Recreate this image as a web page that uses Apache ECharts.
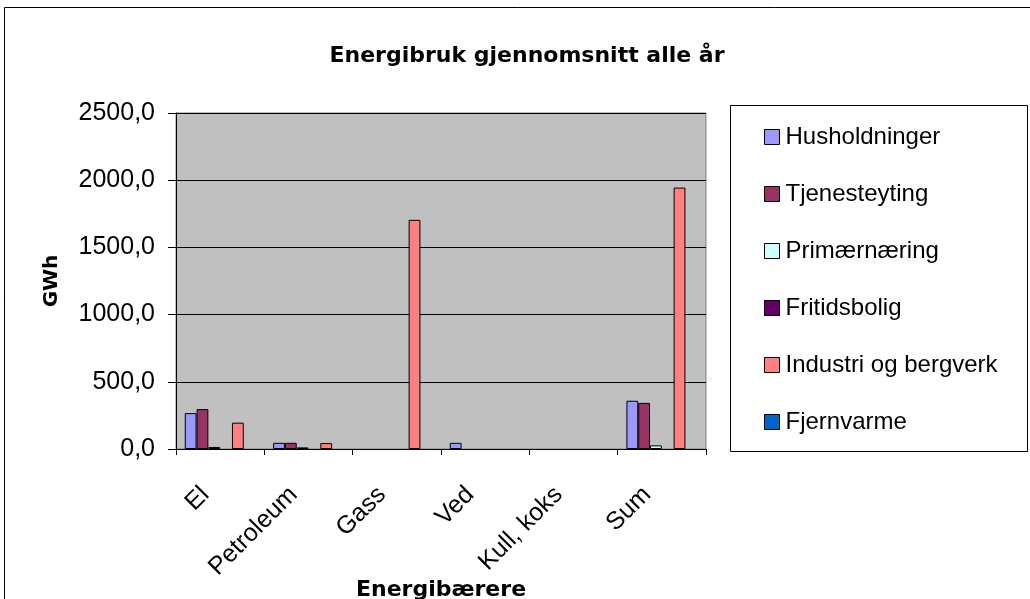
<!DOCTYPE html>
<html>
<head>
<meta charset="utf-8">
<script src="https://cdn.jsdelivr.net/npm/echarts@6/dist/echarts.min.js"></script>
<style>
html,body{margin:0;padding:0;background:#fff;}
#chart{width:1030px;height:599px;}
</style>
</head>
<body>
<div id="chart"></div>
<script>
var categories = ['El', 'Petroleum', 'Gass', 'Ved', 'Kull, koks', 'Sum'];
var seriesNames = ['Husholdninger', 'Tjenesteyting', 'Primærnæring', 'Fritidsbolig', 'Industri og bergverk', 'Fjernvarme'];
var husholdninger = [267, 46, null, 46, null, 359];
var tjenesteyting = [297, 46, null, null, null, 343];
var primaernaering = [15, 12, null, null, null, 27];
var fritidsbolig = [null, null, null, null, null, null];
var industri = [196, 44, 1705, null, null, 1945];
var fjernvarme = [null, null, null, null, null, null];
var yTicks = [0, 500, 1000, 1500, 2000, 2500];
var colors = ['#9999FF', '#993366', '#CCFFFF', '#660066', '#FF8080', '#0066CC'];

var seriesData = [husholdninger, tjenesteyting, primaernaering, fritidsbolig, industri, fjernvarme];

var chart = echarts.init(document.getElementById('chart'), null, {renderer: 'canvas'});
var series = seriesNames.map(function (n, i) {
  return {
    name: n,
    type: 'bar',
    data: seriesData[i],
    barWidth: 11.8,
    barGap: '0%',
    itemStyle: {color: colors[i], borderColor: '#000', borderWidth: 1},
    emphasis: {disabled: true}
  };
});

chart.setOption({
  animation: false,
  backgroundColor: '#fff',
  title: {
    text: 'Energibruk gjennomsnitt alle år',
    left: 522,
    top: 40,
    textAlign: 'center',
    textStyle: {fontFamily: 'DejaVu Sans', fontWeight: 'bold', fontSize: 22, color: '#000'}
  },
  graphic: [
    {type: 'rect', shape: {x: 4.5, y: 7.5, width: 1040, height: 610}, style: {fill: 'none', stroke: '#000', lineWidth: 1}, z: -10},
    {type: 'rect', shape: {x: 730.5, y: 105.5, width: 297, height: 346}, style: {fill: '#fff', stroke: '#000', lineWidth: 1}, z: -5}
  ],
  legend: {
    orient: 'vertical',
    left: 759,
    top: 120,
    itemWidth: 15,
    itemHeight: 15,
    itemGap: 33,
    icon: 'rect',
    selectedMode: false,
    textStyle: {fontFamily: 'Liberation Sans', fontSize: 24, color: '#000', lineHeight: 24, padding: [0, 0, 0, 1]},
    itemStyle: {borderColor: '#000', borderWidth: 1},
    data: seriesNames
  },
  grid: {
    left: 176, top: 113, width: 530, height: 336,
    outerBoundsMode: 'none',
    containLabel: false,
    show: true, backgroundColor: '#C0C0C0', borderColor: '#808080', borderWidth: 1
  },
  xAxis: {
    type: 'category',
    data: categories,
    name: 'Energibærere',
    nameLocation: 'middle',
    nameGap: 130,
    nameMoveOverlap: false,
    nameTextStyle: {fontFamily: 'DejaVu Sans', fontWeight: 'bold', fontSize: 22, color: '#000'},
    axisLine: {lineStyle: {color: '#000', width: 1}},
    axisTick: {show: true, length: 6, lineStyle: {color: '#000'}},
    axisLabel: {rotate: 45, margin: 27, padding: [0, 21, 0, 0], fontFamily: 'Liberation Sans', fontSize: 25, color: '#000', interval: 0}
  },
  yAxis: {
    type: 'value',
    min: 0,
    max: 2500,
    interval: 500,
    name: 'GWh',
    nameLocation: 'middle',
    nameGap: 114,
    nameMoveOverlap: false,
    nameTextStyle: {fontFamily: 'DejaVu Sans', fontWeight: 'bold', fontSize: 20, color: '#000'},
    axisLine: {show: true, lineStyle: {color: '#000', width: 1}},
    axisTick: {show: true, length: 8, lineStyle: {color: '#000'}},
    splitLine: {show: true, lineStyle: {color: '#000', width: 1}},
    axisLabel: {
      margin: 21,
      fontFamily: 'Liberation Sans', fontSize: 25, color: '#000',
      formatter: function (v) {
        return yTicks.indexOf(v) >= 0 ? v.toFixed(1).replace('.', ',') : '';
      }
    }
  },
  series: series
});
</script>
</body>
</html>
